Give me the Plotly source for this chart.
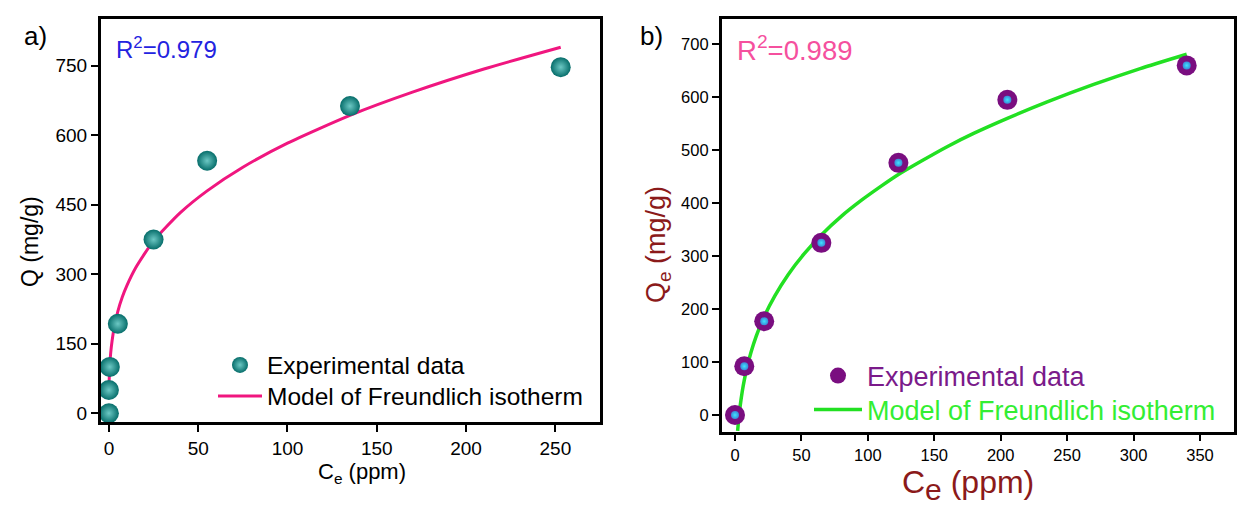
import plotly.graph_objects as go

# ---------------- data ----------------
# Panel a)
ce_a = [0, 0, 0.5, 5, 25, 55, 135, 253]
q_a = [0, 50, 100, 193, 375, 545, 663, 747]
fit_ce_a = [0.15, 0.3, 0.6, 1, 1.8, 3, 5, 7.5, 10, 15, 25, 40, 55, 75, 100, 135, 170, 210, 253]
fit_q_a = [70, 88, 110, 130, 157, 186, 220, 251, 275, 314, 372, 433, 480, 531, 583, 643, 693, 743, 790]
r2_a = "R<sup>2</sup>=0.979"

# Panel b)
ce_b = [0, 7, 22, 65, 123, 205, 340]
q_b = [0, 92, 177, 325, 476, 595, 660]
fit_ce_b = [2, 3, 4, 5.5, 7, 9, 12, 16, 22, 30, 40, 52, 65, 80, 95, 110, 123, 140, 160, 180, 205, 235, 270, 305, 340]
fit_q_b = [-30, -2, 19, 45, 66, 89, 118, 149, 186, 225, 265, 304, 340, 375, 405, 432, 454, 479, 507, 532, 560, 591, 624, 654, 681]
r2_b = "R<sup>2</sup>=0.989"

xticks_a = [0, 50, 100, 150, 200, 250]
yticks_a = [0, 150, 300, 450, 600, 750]
xticks_b = [0, 50, 100, 150, 200, 250, 300, 350]
yticks_b = [0, 100, 200, 300, 400, 500, 600, 700]

W, H = 1243, 508
FONT = "Liberation Sans, Arial, sans-serif"
DARKRED = "#8b1a1a"

def px_x(p):
    return p / W

def px_y(p):
    return 1 - p / H

fig = go.Figure()

# ---- panel a traces ----
fig.add_trace(go.Scatter(
    x=fit_ce_a, y=fit_q_a, mode="lines", xaxis="x", yaxis="y",
    line=dict(color="#f0167f", width=3, shape="spline", smoothing=0.6),
    name="Model of Freundlich isotherm", legend="legend3"))
fig.add_trace(go.Scatter(
    x=ce_a, y=q_a, mode="markers", xaxis="x", yaxis="y",
    marker=dict(size=20, color="#066d6a", line=dict(width=0),
                gradient=dict(type="radial", color="#6cc8c4")),
    name="Experimental data", legend="legend"))

# ---- panel b traces ----
fig.add_trace(go.Scatter(
    x=fit_ce_b, y=fit_q_b, mode="lines", xaxis="x2", yaxis="y2",
    line=dict(color="#22e022", width=3.5, shape="spline", smoothing=0.6),
    name="<span style='color:#33ee33'>Model of Freundlich isotherm</span>",
    legend="legend4"))
fig.add_trace(go.Scatter(
    x=ce_b, y=q_b, mode="markers", xaxis="x2", yaxis="y2",
    marker=dict(size=20, color="#7a0e80", line=dict(width=0)),
    name="<span style='color:#7a1a8a'>Experimental data</span>",
    legend="legend2"))
fig.add_trace(go.Scatter(
    x=ce_b, y=q_b, mode="markers", xaxis="x2", yaxis="y2", showlegend=False,
    marker=dict(size=8, color="#3a8ad8", line=dict(width=0),
                gradient=dict(type="radial", color="#40e4ff")),
    hoverinfo="skip"))

axis_common = dict(
    showline=True, linecolor="black", linewidth=2.5, mirror=True,
    ticks="outside", ticklen=7, tickwidth=2, tickcolor="black",
    showgrid=False, zeroline=False, automargin=False,
)

def leg(x_text_px, y_center_px, size, itemwidth, color=None):
    f = dict(size=size, family=FONT)
    if color:
        f["color"] = color
    extra = itemwidth - 30
    return dict(x=px_x(x_text_px - 41 - extra), y=px_y(y_center_px), xanchor="left",
                yanchor="middle", xref="paper", yref="paper", font=f,
                bgcolor="rgba(0,0,0,0)", borderwidth=0, tracegroupgap=0,
                itemsizing="trace", itemwidth=itemwidth)

fig.update_layout(
    width=W, height=H,
    margin=dict(l=0, r=0, t=0, b=0),
    paper_bgcolor="white", plot_bgcolor="white",
    font=dict(family=FONT, color="black"),
    xaxis=dict(domain=[px_x(100.7), px_x(600)], range=[-4.6, 275],
               tickvals=xticks_a, tickfont=dict(size=19, family=FONT),
               anchor="y", **axis_common),
    yaxis=dict(domain=[px_y(422), px_y(19)], range=[-19, 851],
               tickvals=yticks_a, tickfont=dict(size=19, family=FONT),
               anchor="x", **axis_common),
    xaxis2=dict(domain=[px_x(721.7), px_x(1234)], range=[-10, 375.6],
                tickvals=xticks_b, tickfont=dict(size=16.5, family=FONT),
                anchor="y2", **axis_common),
    yaxis2=dict(domain=[px_y(431.7), px_y(19.3)], range=[-31.5, 747],
                tickvals=yticks_b, tickfont=dict(size=16.5, family=FONT),
                anchor="x2", **axis_common),
    legend=leg(268, 365, 24.5, 44, "black"),
    legend3=leg(268, 396, 24.5, 44, "black"),
    legend2=leg(868, 376, 27, 48),
    legend4=leg(868, 410, 27, 48),
    showlegend=True,
)

ann = []
# panel labels
ann.append(dict(text="a)", x=px_x(22), y=px_y(36), xanchor="left", yanchor="middle",
                font=dict(size=26, family=FONT, color="black")))
ann.append(dict(text="b)", x=px_x(638), y=px_y(36), xanchor="left", yanchor="middle",
                font=dict(size=26, family=FONT, color="black")))
# R^2 labels
ann.append(dict(text=r2_a, x=px_x(114), y=px_y(48), xanchor="left", yanchor="middle",
                font=dict(size=24, family=FONT, color="#2323e0")))
ann.append(dict(text=r2_b, x=px_x(735), y=px_y(48), xanchor="left", yanchor="middle",
                font=dict(size=27.5, family=FONT, color="#f5509e")))
# axis titles
ann.append(dict(text="Q (mg/g)", x=px_x(30), y=px_y(242), xanchor="center", yanchor="middle",
                textangle=-90, font=dict(size=23, family=FONT, color="black")))
ann.append(dict(text="C<sub>e</sub> (ppm)", x=px_x(362), y=px_y(473), xanchor="center",
                yanchor="middle", font=dict(size=22, family=FONT, color="black")))
ann.append(dict(text="Q<sub>e</sub> (mg/g)", x=px_x(658), y=px_y(245), xanchor="center",
                yanchor="middle", textangle=-90, font=dict(size=27, family=FONT, color=DARKRED)))
ann.append(dict(text="C<sub><span style='font-size:30px'>e</span></sub> (ppm)",
                x=px_x(968), y=px_y(485), xanchor="center",
                yanchor="middle", font=dict(size=32, family=FONT, color=DARKRED)))
for a in ann:
    a.update(xref="paper", yref="paper", showarrow=False)
fig.update_layout(annotations=ann)

fig.write_html("out.html")
